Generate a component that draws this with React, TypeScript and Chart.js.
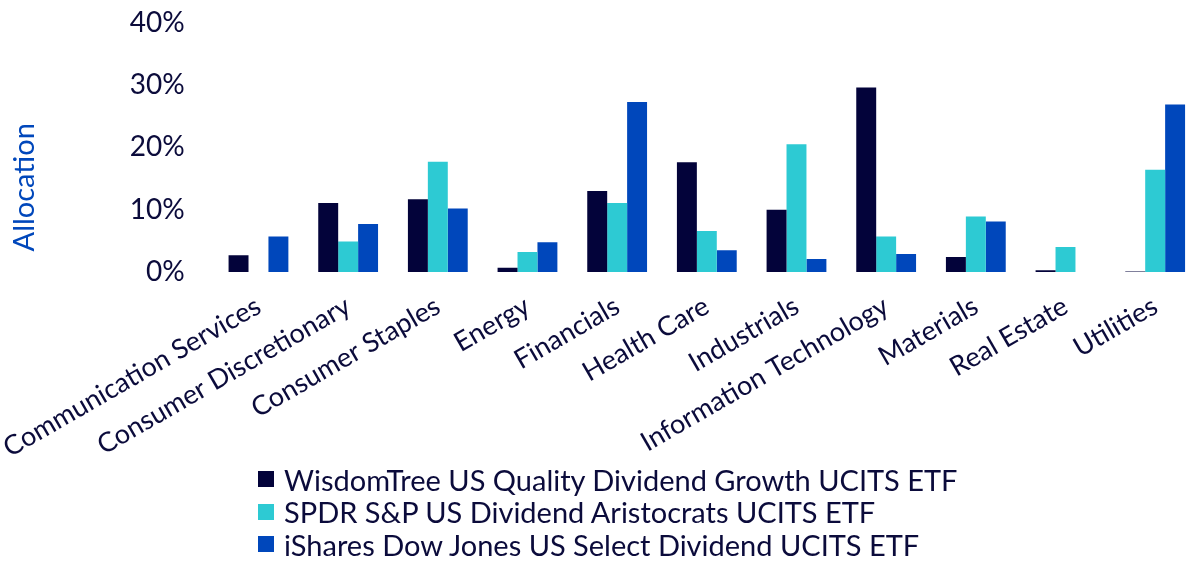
import { useEffect, useRef } from 'react';
import { Chart, ChartConfiguration, Plugin, registerables } from 'chart.js';

Chart.register(...registerables);

const categories = [
  'Communication Services',
  'Consumer Discretionary',
  'Consumer Staples',
  'Energy',
  'Financials',
  'Health Care',
  'Industrials',
  'Information Technology',
  'Materials',
  'Real Estate',
  'Utilities',
];

const seriesNames = [
  'WisdomTree US Quality Dividend Growth UCITS ETF',
  'SPDR S&P US Dividend Aristocrats UCITS ETF',
  'iShares Dow Jones US Select Dividend UCITS ETF',
];

const wisdomTree = [2.7, 11.1, 11.7, 0.7, 13.0, 17.6, 10.0, 29.6, 2.4, 0.3, 0.1];
const spdr = [0, 4.9, 17.7, 3.2, 11.1, 6.6, 20.5, 5.7, 8.9, 4.0, 16.4];
const iShares = [5.7, 7.7, 10.2, 4.8, 27.3, 3.5, 2.1, 2.9, 8.1, 0, 26.9];

const seriesColors = ['#03033A', '#2DCAD3', '#0047BB'];

const FONT = 'Lato, "Open Sans", sans-serif';
const INK = '#0B0B3B';

// axis title drawn by hand so it can sit lower than the chart-area centre
const yTitlePlugin: Plugin<'bar'> = {
  id: 'yTitle',
  afterDraw(chart) {
    const { ctx, chartArea } = chart;
    ctx.save();
    ctx.translate(34, chartArea.top + (chartArea.bottom - chartArea.top) * 0.66);
    ctx.rotate(-Math.PI / 2);
    ctx.textAlign = 'center';
    ctx.textBaseline = 'middle';
    ctx.fillStyle = '#0047BB';
    ctx.font = `29px ${FONT}`;
    ctx.fillText('Allocation', 0, 0);
    ctx.restore();
  },
};

function AllocationChart() {
  const canvasRef = useRef<HTMLCanvasElement>(null);
  const chartRef = useRef<Chart | null>(null);

  useEffect(() => {
    if (!canvasRef.current) return;
    const ctx = canvasRef.current.getContext('2d');
    if (!ctx) return;

    const config: ChartConfiguration<'bar'> = {
      type: 'bar',
      data: {
        labels: categories,
        datasets: [wisdomTree, spdr, iShares].map((values, i) => ({
          label: seriesNames[i],
          data: values,
          backgroundColor: seriesColors[i],
          borderWidth: 0,
          barPercentage: 1,
          categoryPercentage: 0.667,
        })),
      },
      options: {
        responsive: true,
        maintainAspectRatio: false,
        animation: false,
        layout: {
          padding: 0,
        },
        scales: {
          x: {
            grid: { display: false },
            border: { display: false },
            ticks: {
              minRotation: 30,
              maxRotation: 30,
              padding: 10,
              color: INK,
              font: { family: FONT, size: 27 },
            },
          },
          y: {
            min: 0,
            max: 40,
            grid: { display: false },
            border: { display: false },
            ticks: {
              stepSize: 10,
              padding: 21,
              color: INK,
              font: { family: FONT, size: 28 },
              callback: (v) => `${v}%`,
            },
          },
        },
        plugins: {
          legend: { display: false },
          tooltip: { enabled: false },
        },
      },
      plugins: [yTitlePlugin],
    };

    if (chartRef.current) chartRef.current.destroy();
    chartRef.current = new Chart(ctx, config);

    return () => {
      if (chartRef.current) {
        chartRef.current.destroy();
        chartRef.current = null;
      }
    };
  }, []);

  return (
    <div style={{ position: 'absolute', left: 0, top: 0, width: 1200, height: 566, background: '#fff', overflow: 'hidden' }}>
      <div style={{ position: 'absolute', left: -9, top: -15, width: 1209, height: 489 }}>
        <canvas ref={canvasRef} />
      </div>
      <div style={{ position: 'absolute', left: 258, top: 463, fontFamily: FONT, fontSize: 29, color: INK }}>
        {seriesNames.map((name, i) => (
          <div key={name} style={{ display: 'flex', alignItems: 'center', height: 32.5 }}>
            <span style={{ width: 16, height: 16, background: seriesColors[i], marginRight: 10, display: 'inline-block' }} />
            <span>{name}</span>
          </div>
        ))}
      </div>
    </div>
  );
}

export default function App() {
  return <AllocationChart />;
}
